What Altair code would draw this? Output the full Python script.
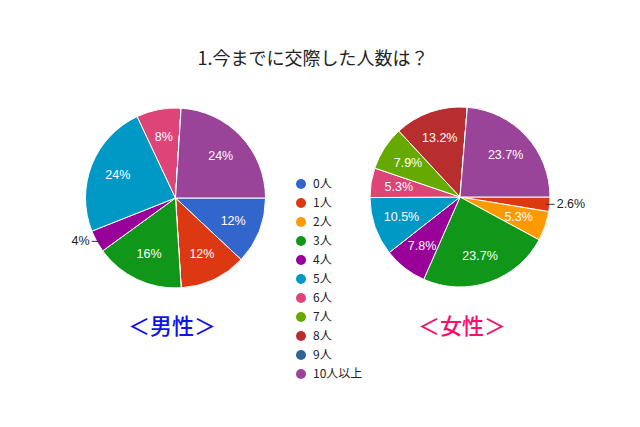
import math
import altair as alt
import pandas as pd

categories = ["0人", "1人", "2人", "3人", "4人", "5人", "6人", "7人", "8人", "9人", "10人以上"]
colors = ["#3366cc", "#dc3912", "#ff9900", "#109618", "#990099", "#0099c6",
          "#dd4477", "#66aa00", "#b82e2e", "#316395", "#994499"]
male_pct = [12, 12, 0, 16, 4, 24, 8, 0, 0, 0, 24]
female_pct = [0, 2.6, 5.3, 23.7, 7.8, 10.5, 5.3, 7.9, 13.2, 0, 23.7]
title_text = "1.今までに交際した人数は？"
gender_names = ["＜男性＞", "＜女性＞"]
gender_colors = ["#1010f0", "#f5106e"]

rows = []
for i, c in enumerate(categories):
    rows.append({"gender": "male", "category": c, "idx": i, "value": male_pct[i]})
    rows.append({"gender": "female", "category": c, "idx": i, "value": female_pct[i]})
df = pd.DataFrame(rows)

JP = "Noto Sans CJK JP"
NUM = "Liberation Sans"
R = 90

theta = alt.Theta("value:Q", stack=True,
                  scale=alt.Scale(domain=[0, 100], range=[math.pi / 2, math.pi / 2 + 2 * math.pi]))
legend = alt.Legend(orient="none", legendX=287, legendY=170, title=None,
                    symbolType="circle", symbolSize=100, symbolStrokeWidth=0,
                    labelFontSize=12, labelFont=JP, labelColor="#222222",
                    rowPadding=7, labelOffset=6, padding=0)
color = alt.Color("category:N", scale=alt.Scale(domain=categories, range=colors),
                  legend=legend, sort=categories)


def pie(gender, cx, cy, align):
    base = alt.Chart(df).transform_filter(alt.datum.gender == gender)
    arcs = base.mark_arc(outerRadius=R, stroke="white", strokeWidth=1).encode(
        theta=theta, color=color, order=alt.Order("idx:Q"),
        x=alt.value(cx), y=alt.value(cy))
    inner = base.transform_calculate(
        lab="datum.value >= 5 ? datum.value + '%' : ''"
    ).mark_text(radius=62, color="white", fontSize=12.5, font=NUM).encode(
        theta=theta, order=alt.Order("idx:Q"), text="lab:N",
        x=alt.value(cx), y=alt.value(cy))
    small = base.transform_window(
        cum="sum(value)", sort=[alt.SortField("idx")], frame=[None, 0]
    ).transform_calculate(
        mid="(datum.cum - datum.value/2)/100*2*PI + PI/2"
    ).transform_filter("datum.value > 0 && datum.value < 5").transform_calculate(
        ex=f"{cx} + sin(datum.mid)*{R}",
        ey=f"{cy} - cos(datum.mid)*{R}",
        s="sin(datum.mid) >= 0 ? 1 : -1",
    ).transform_calculate(
        x1="datum.ex - 4*datum.s", x2="datum.ex + 5*datum.s",
        tx="datum.ex + 7*datum.s", lab="datum.value + '%'")
    lines = small.mark_rule(color="#333333", strokeWidth=1).encode(
        x=alt.X("x1:Q", scale=None, axis=None), x2="x2:Q",
        y=alt.Y("ey:Q", scale=None, axis=None))
    labs = small.mark_text(align=align, baseline="middle", fontSize=12.5,
                           font=NUM, color="#222222").encode(
        x=alt.X("tx:Q", scale=None, axis=None),
        y=alt.Y("ey:Q", scale=None, axis=None), text="lab:N")
    return [arcs, inner, lines, labs]


title = alt.Chart(pd.DataFrame({"t": [title_text]})).mark_text(
    fontSize=18, font=JP, color="#222222", align="center", baseline="middle"
).encode(text="t:N", x=alt.value(305), y=alt.value(52))

gdf = pd.DataFrame({"name": gender_names, "col": gender_colors, "px": [164, 454]})
glabels = alt.Chart(gdf).mark_text(fontSize=22, font=JP, fontWeight=500, baseline="middle").encode(
    text="name:N", x=alt.X("px:Q", scale=None, axis=None), y=alt.value(319),
    color=alt.Color("col:N", scale=None))

layers = [title] + pie("male", 167.5, 190, "right") + pie("female", 452, 189, "left") + [glabels]
chart = alt.layer(*layers).properties(
    width=624, height=405, padding=0, autosize="none"
).configure_view(strokeWidth=0)

chart.save("out.html", embed_options={"renderer": "svg", "actions": False})
